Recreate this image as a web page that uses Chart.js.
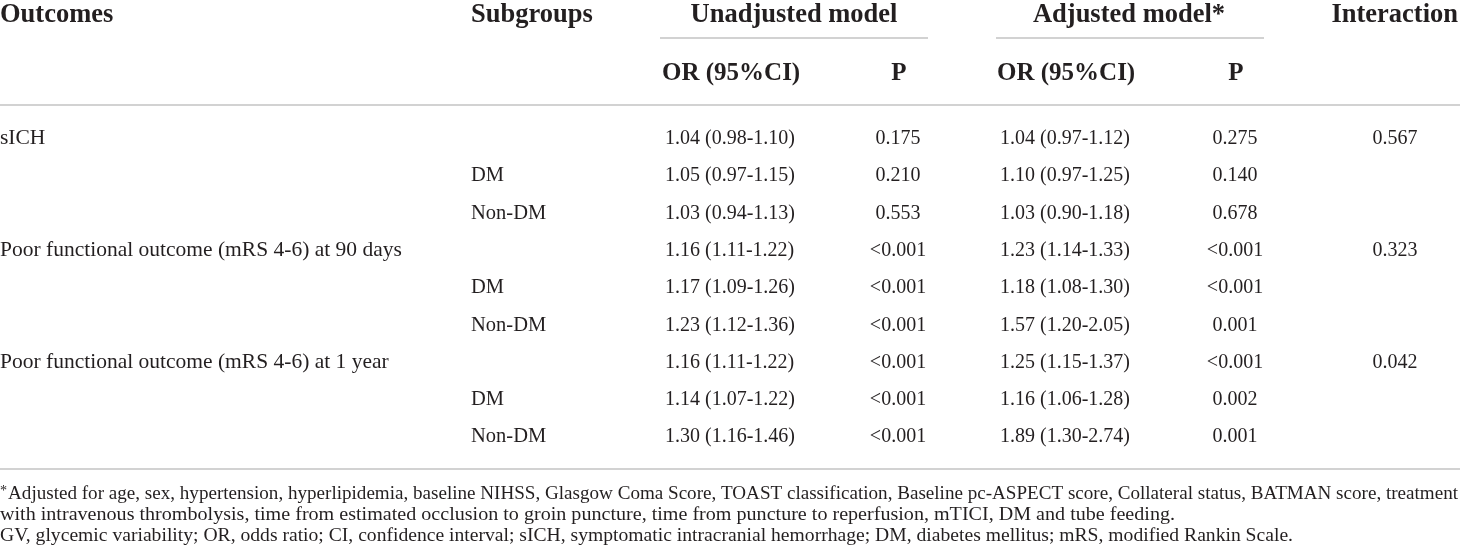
<!DOCTYPE html>
<html>
<head>
<meta charset="utf-8">
<script src="https://cdn.jsdelivr.net/npm/chart.js@4/dist/chart.umd.min.js"></script>
<style>
html,body{margin:0;padding:0;background:#fff;overflow:hidden;}
#wrap{position:relative;width:1460px;height:554px;}
</style>
</head>
<body>
<div id="wrap"><canvas id="c" aria-label="Table: association of GV with outcomes by DM subgroup"></canvas></div>
<script>
// ---- table content ----
const outcomes = ['sICH', '', '', 'Poor functional outcome (mRS 4-6) at 90 days', '', '', 'Poor functional outcome (mRS 4-6) at 1 year', '', ''];
const subgroups = ['', 'DM', 'Non-DM', '', 'DM', 'Non-DM', '', 'DM', 'Non-DM'];
const orUnadj = [1.04, 1.05, 1.03, 1.16, 1.17, 1.23, 1.16, 1.14, 1.30];
const ciUnadjLow = [0.98, 0.97, 0.94, 1.11, 1.09, 1.12, 1.11, 1.07, 1.16];
const ciUnadjHigh = [1.10, 1.15, 1.13, 1.22, 1.26, 1.36, 1.22, 1.22, 1.46];
const pUnadj = ['0.175', '0.210', '0.553', '<0.001', '<0.001', '<0.001', '<0.001', '<0.001', '<0.001'];
const orAdj = [1.04, 1.10, 1.03, 1.23, 1.18, 1.57, 1.25, 1.16, 1.89];
const ciAdjLow = [0.97, 0.97, 0.90, 1.14, 1.08, 1.20, 1.15, 1.06, 1.30];
const ciAdjHigh = [1.12, 1.25, 1.18, 1.33, 1.30, 2.05, 1.37, 1.28, 2.74];
const pAdj = ['0.275', '0.140', '0.678', '<0.001', '<0.001', '0.001', '<0.001', '0.002', '0.001'];
const pInteraction = ['0.567', '', '', '0.323', '', '', '0.042', '', ''];

const headerTop = ['Outcomes', 'Subgroups', 'Unadjusted model', 'Adjusted model*', 'Interaction'];
const headerSub = ['OR (95%CI)', 'P', 'OR (95%CI)', 'P'];
const footnotes = [
  'Adjusted for age, sex, hypertension, hyperlipidemia, baseline NIHSS, Glasgow Coma Score, TOAST classification, Baseline pc-ASPECT score, Collateral status, BATMAN score, treatment',
  'with intravenous thrombolysis, time from estimated occlusion to groin puncture, time from puncture to reperfusion, mTICI, DM and tube feeding.',
  'GV, glycemic variability; OR, odds ratio; CI, confidence interval; sICH, symptomatic intracranial hemorrhage; DM, diabetes mellitus; mRS, modified Rankin Scale.'
];

const fmtOR = (o, lo, hi) => o.toFixed(2) + ' (' + lo.toFixed(2) + '-' + hi.toFixed(2) + ')';
const rowIdx = outcomes.map((_, i) => i);

// ---- layout / style (not data) ----
const SERIF = '"Liberation Serif", "DejaVu Serif", serif';
const INK = '#231f20';
const RULE = '#d2d2d2';
const col = { outcome: 0, subgroup: 471, orU: 665, pU: 898, orA: 1000, pA: 1235, inter: 1395 };
const footEnds = [1458, 1175, 1293];
const footBase = [499, 520, 541];

const tablePlugin = {
  id: 'tablePlugin',
  afterDraw(chart) {
    const ctx = chart.ctx;
    const xs = chart.scales.x, ys = chart.scales.y;
    const X = v => xs.getPixelForValue(v);
    ctx.save();
    ctx.fillStyle = INK;
    ctx.textBaseline = 'alphabetic';
    const text = (s, x, y, align) => { ctx.textAlign = align; ctx.fillText(s, x, y); };

    // rules
    ctx.strokeStyle = RULE; ctx.lineWidth = 2;
    const hline = (x1, x2, y) => { ctx.beginPath(); ctx.moveTo(x1, y); ctx.lineTo(x2, y); ctx.stroke(); };
    hline(X(660), X(928), 38);
    hline(X(996), X(1264), 38);
    hline(X(0), X(1460), 105);
    hline(X(0), X(1460), 469);

    // headers
    ctx.font = 'bold 26.5px ' + SERIF;
    text(headerTop[0], X(col.outcome), 22, 'left');
    text(headerTop[1], X(col.subgroup), 22, 'left');
    text(headerTop[2], X(794), 22, 'center');
    text(headerTop[3], X(1129), 22, 'center');
    text(headerTop[4], X(1458), 22, 'right');
    ctx.font = 'bold 25px ' + SERIF;
    text(headerSub[0], X(662), 80, 'left');
    text(headerSub[1], X(899), 80, 'center');
    text(headerSub[2], X(997), 80, 'left');
    text(headerSub[3], X(1236), 80, 'center');

    // body cells
    rowIdx.forEach(i => {
      const y = ys.getPixelForValue(i) + 7;
      ctx.font = '21.5px ' + SERIF;
      if (outcomes[i]) text(outcomes[i], X(col.outcome), y, 'left');
      ctx.font = '20.5px ' + SERIF;
      if (subgroups[i]) text(subgroups[i], X(col.subgroup), y, 'left');
      ctx.font = '20px ' + SERIF;
      text(fmtOR(orUnadj[i], ciUnadjLow[i], ciUnadjHigh[i]), X(col.orU), y, 'left');
      text(pUnadj[i], X(col.pU), y, 'center');
      text(fmtOR(orAdj[i], ciAdjLow[i], ciAdjHigh[i]), X(col.orA), y, 'left');
      text(pAdj[i], X(col.pA), y, 'center');
      if (pInteraction[i]) text(pInteraction[i], X(col.inter), y, 'center');
    });

    // footnotes: each line fitted to the width it spans in the reference
    ctx.font = '18px ' + SERIF;
    const fs = 18 * 1293 / ctx.measureText(footnotes[2]).width;
    ctx.font = (fs * 0.72).toFixed(2) + 'px ' + SERIF;
    text('*', 0, 495, 'left');
    const starW = ctx.measureText('*').width + 1;
    ctx.font = fs.toFixed(2) + 'px ' + SERIF;
    ctx.textAlign = 'left';
    footnotes.forEach((s, k) => {
      const x0 = k === 0 ? starW : 0;
      const w = ctx.measureText(s).width;
      const sx = (footEnds[k] - x0) / w;
      ctx.save();
      ctx.translate(x0, footBase[k]);
      ctx.scale(sx, 1);
      ctx.fillText(s, 0, 0);
      ctx.restore();
    });
    ctx.restore();
  }
};

new Chart(document.getElementById('c'), {
  type: 'scatter',
  data: { labels: outcomes.map((o, i) => (o || outcomes[i - (subgroups[i] === 'DM' ? 1 : 2)]) + ' ' + subgroups[i]), datasets: [] },
  options: {
    responsive: true,
    maintainAspectRatio: false,
    animation: false,
    events: [],
    layout: { padding: { top: 118.35, bottom: 99.95, left: 0, right: 0 } },
    plugins: { legend: { display: false }, tooltip: { enabled: false } },
    scales: {
      x: { type: 'linear', min: 0, max: 1460, display: false },
      y: { type: 'linear', min: -0.5, max: 8.5, reverse: true, display: false }
    }
  },
  plugins: [tablePlugin]
});
</script>
</body>
</html>
